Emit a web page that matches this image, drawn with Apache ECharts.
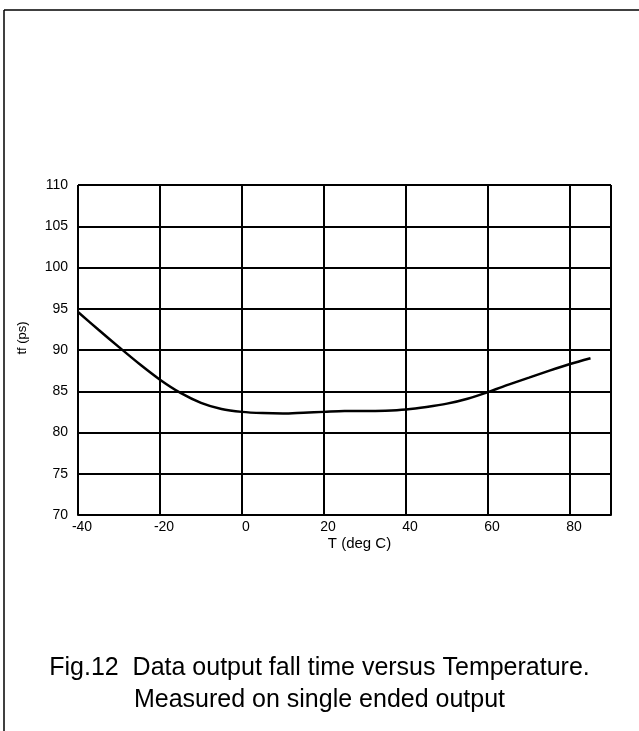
<!DOCTYPE html>
<html>
<head>
<meta charset="utf-8">
<script src="https://cdn.jsdelivr.net/npm/echarts@6/dist/echarts.min.js"></script>
<style>
html,body{margin:0;padding:0;background:#fff;}
#chart{width:639px;height:731px;}
</style>
</head>
<body>
<div id="chart"></div>
<script>
const temperatures = [-40,-35,-30,-25,-20,-15,-10,-5,0,5,10,15,20,25,30,35,40,45,50,55,60,65,70,75,80,85];
const fallTimes = [94.6,92.45,90.35,88.3,86.4,84.8,83.6,82.85,82.5,82.35,82.3,82.4,82.5,82.6,82.6,82.65,82.8,83.1,83.5,84.1,84.9,85.8,86.65,87.5,88.3,89.0];
const xTicks = [-40,-20,0,20,40,60,80];
const yTicks = [70,75,80,85,90,95,100,105,110];
const captionLines = ['Fig.12  Data output fall time versus Temperature.', 'Measured on single ended output'];

const FONT = "'Liberation Sans', Arial, sans-serif";
const chart = echarts.init(document.getElementById('chart'), null, {renderer:'canvas'});
chart.setOption({
  animation:false,
  backgroundColor:'#fff',
  grid:{left:78, top:185, right:28, bottom:216, show:false},
  xAxis:{
    type:'value', min:-40, max:90, interval:20,
    name:'T (deg C)', nameLocation:'middle', nameGap:21,
    nameTextStyle:{fontFamily:FONT, fontSize:15, color:'#000', padding:[0,0,0,30]},
    axisLine:{show:true, lineStyle:{color:'#000', width:2}},
    axisTick:{show:false},
    axisLabel:{fontFamily:FONT, fontSize:14, color:'#000', margin:5, showMaxLabel:false,
      padding:[0,0,0,8],
      formatter:v=>xTicks.includes(v)?String(v):''},
    splitLine:{show:true, lineStyle:{color:'#000', width:2}}
  },
  yAxis:{
    type:'value', min:70, max:110, interval:5,
    name:'tf (ps)', nameLocation:'middle', nameGap:49,
    nameTextStyle:{fontFamily:FONT, fontSize:13, color:'#000', padding:[0,0,0,24]},
    axisLine:{show:true, lineStyle:{color:'#000', width:2}},
    axisTick:{show:false},
    axisLabel:{fontFamily:FONT, fontSize:14, color:'#000', margin:10,
      formatter:v=>yTicks.includes(v)?String(v):''},
    splitLine:{show:true, lineStyle:{color:'#000', width:2}}
  },
  series:[{
    type:'line', smooth:0.3, showSymbol:false,
    data:temperatures.map((t,i)=>[t,fallTimes[i]]),
    lineStyle:{color:'#000', width:2.5}
  }],
  graphic:[
    {type:'line', shape:{x1:4, y1:10, x2:639, y2:10}, style:{stroke:'#000', lineWidth:1.5}},
    {type:'line', shape:{x1:4, y1:10, x2:4, y2:731}, style:{stroke:'#000', lineWidth:1.5}},
    {type:'text', left:'center', top:652, style:{text:captionLines.join('\n'), font:'25px '+FONT, fill:'#000', textAlign:'center', lineHeight:32}}
  ]
});
</script>
</body>
</html>
